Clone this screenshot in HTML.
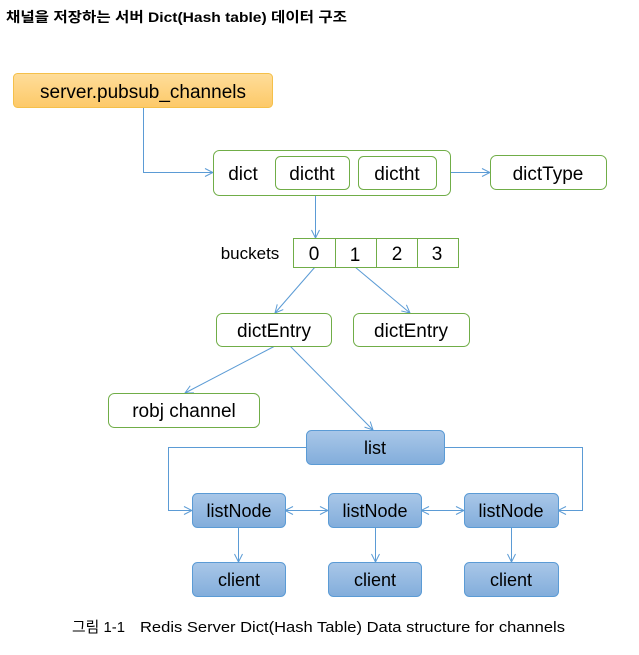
<!DOCTYPE html>
<html><head><meta charset="utf-8"><style>
body{margin:0;background:#fff;width:639px;height:650px;overflow:hidden}
svg text{font-family:"Liberation Sans","Noto Sans CJK KR",sans-serif;}
</style></head><body>
<svg width="639" height="650" viewBox="0 0 639 650" xmlns="http://www.w3.org/2000/svg">
<defs>
<linearGradient id="o" x1="0" y1="0" x2="0" y2="1"><stop offset="0" stop-color="#fedd9a"/><stop offset="1" stop-color="#fdc968"/></linearGradient>
<linearGradient id="b" x1="0" y1="0" x2="0" y2="1"><stop offset="0" stop-color="#a9c7e8"/><stop offset="1" stop-color="#82addb"/></linearGradient>
<marker id="a" markerWidth="10" markerHeight="10" refX="9" refY="5" orient="auto" markerUnits="userSpaceOnUse"><path d="M1,1 L9,5 L1,9" fill="none" stroke="#5b9bd5" stroke-width="1"/></marker>
<marker id="s" markerWidth="10" markerHeight="10" refX="1" refY="5" orient="auto" markerUnits="userSpaceOnUse"><path d="M9,1 L1,5 L9,9" fill="none" stroke="#5b9bd5" stroke-width="1"/></marker>
</defs>
<text x="6" y="22" font-size="14" font-weight="bold" fill="#000" textLength="341" lengthAdjust="spacingAndGlyphs">채널을 저장하는 서버 Dict(Hash table) 데이터 구조</text>
<g fill="none" stroke="#5b9bd5" stroke-width="1">
<path d="M143.5,107 V172.5 H213" marker-end="url(#a)"/>
<path d="M450,172.5 H490" marker-end="url(#a)"/>
<path d="M315.5,189 V238" marker-end="url(#a)"/>
<path d="M315,267 L275,313" marker-end="url(#a)"/>
<path d="M355,267 L410,313" marker-end="url(#a)"/>
<path d="M275,346 L185,393" marker-end="url(#a)"/>
<path d="M290,346 L373,430" marker-end="url(#a)"/>
<path d="M306,447.5 H168.5 V510.5 H192" marker-end="url(#a)"/>
<path d="M444,447.5 H582.5 V510.5 H558" marker-end="url(#a)"/>
<path d="M285,510.5 H328" marker-start="url(#s)" marker-end="url(#a)"/>
<path d="M421,510.5 H464" marker-start="url(#s)" marker-end="url(#a)"/>
<path d="M238.5,527 V562" marker-end="url(#a)"/>
<path d="M375.5,527 V562" marker-end="url(#a)"/>
<path d="M511.5,527 V562" marker-end="url(#a)"/>
</g>
<rect x="13.5" y="73.5" width="259" height="34" rx="4" fill="url(#o)" stroke="#f5c04a"/>
<text x="143" y="98" font-size="19" text-anchor="middle">server.pubsub_channels</text>
<g fill="#fff" stroke="#70ad47">
<rect x="213.5" y="150.5" width="237" height="45" rx="6"/>
<rect x="275.5" y="156.5" width="74" height="33" rx="5"/>
<rect x="358.5" y="156.5" width="78" height="33" rx="5"/>
<rect x="490.5" y="155.5" width="116" height="34" rx="6"/>
<rect x="293.5" y="238.5" width="165" height="29"/>
<rect x="216.5" y="313.5" width="115" height="33" rx="6"/>
<rect x="353.5" y="313.5" width="116" height="33" rx="6"/>
<rect x="108.5" y="393.5" width="151" height="34" rx="6"/>
</g>
<path d="M335.5,238 V268 M376.5,238 V268 M417.5,238 V268" stroke="#70ad47"/>
<g font-size="19" text-anchor="middle">
<text x="243" y="180">dict</text>
<text x="312" y="180">dictht</text>
<text x="397" y="180">dictht</text>
<text x="548" y="180">dictType</text>
<text x="250" y="259" font-size="17">buckets</text>
<text x="314" y="260">0</text><text x="355" y="261">1</text><text x="397" y="260">2</text><text x="437" y="260">3</text>
<text x="274" y="337">dictEntry</text>
<text x="411" y="337">dictEntry</text>
<text x="184" y="417">robj channel</text>
</g>
<g fill="url(#b)" stroke="#5b9bd5">
<rect x="306.5" y="430.5" width="138" height="34" rx="5"/>
<rect x="192.5" y="493.5" width="93" height="34" rx="5"/>
<rect x="328.5" y="493.5" width="93" height="34" rx="5"/>
<rect x="464.5" y="493.5" width="94" height="34" rx="5"/>
<rect x="192.5" y="562.5" width="93" height="34" rx="5"/>
<rect x="328.5" y="562.5" width="93" height="34" rx="5"/>
<rect x="464.5" y="562.5" width="94" height="34" rx="5"/>
</g>
<g font-size="18" text-anchor="middle">
<text x="375" y="454">list</text>
<text x="239" y="517">listNode</text><text x="375" y="517">listNode</text><text x="511" y="517">listNode</text>
<text x="239" y="586">client</text><text x="375" y="586">client</text><text x="511" y="586">client</text>
</g>
<text x="72" y="632" font-size="15" textLength="53" lengthAdjust="spacingAndGlyphs">그림 1-1</text>
<text x="140" y="632" font-size="15" textLength="425" lengthAdjust="spacingAndGlyphs">Redis Server Dict(Hash Table) Data structure for channels</text>
</svg>
</body></html>
